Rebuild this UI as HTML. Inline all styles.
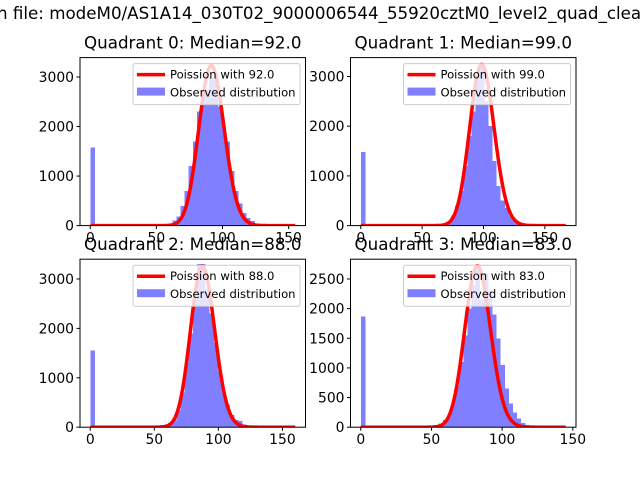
<!DOCTYPE html>
<html><head><meta charset="utf-8"><style>
body{margin:0;background:#fff;}
svg{display:block;font-family:"DejaVu Sans","Liberation Sans",sans-serif;}
</style></head><body>
<svg id="fig" width="640" height="480" viewBox="0 0 640 480">
<rect width="640" height="480" fill="#fff"/>
<text x="-3" y="19" font-size="16.7">n file: modeM0/AS1A14_030T02_9000006544_55920cztM0_level2_quad_clean</text>
</svg>
<script>
// Quadrant 0 (50 bins over 0..155)
const q0Counts = [1580,0,0,0,0,0,0,0,0,0,0,0,0,0,0,0,0,20,30,40,100,180,400,700,1200,1700,2300,2700,2750,3000,2950,2400,2000,1700,1100,700,450,250,150,90,40,0,0,0,0,0,0,0,0,0];
// Quadrant 1 (50 bins over 0..167)
const q1Counts = [1480,0,0,0,0,0,0,0,0,0,0,0,0,0,0,0,0,0,20,30,40,80,200,400,700,1200,1800,2300,3000,3200,2500,2000,1300,800,500,350,200,100,40,0,0,0,0,0,0,0,0,0,0,0];
// Quadrant 2 (50 bins over 0..160)
const q2Counts = [1550,0,0,0,0,0,0,0,0,0,0,0,0,0,0,0,0,40,50,80,150,350,700,1300,1900,2600,3300,3300,2800,2300,1700,1150,700,450,250,150,130,50,0,0,0,0,0,0,0,0,0,0,0,0];
// Quadrant 3 (50 bins over 0..145)
const q3Counts = [1870,0,0,0,0,0,0,0,0,0,0,0,0,0,0,0,30,30,40,60,120,200,400,700,1100,1550,2000,2400,2700,2150,2600,2300,1900,1500,1050,650,400,250,150,70,40,0,0,0,0,0,0,0,0,0];
const medians = [92.0, 99.0, 88.0, 83.0];
const dataMax = [155, 167, 160, 145];
const curvePeak = [3230, 3240, 3260, 2720];
const yMax = [3392, 3380, 3400, 2834];
const xTicks = [[0,50,100,150],[0,50,100,150],[0,50,100,150],[0,50,100,150]];
const yTicks = [[0,1000,2000,3000],[0,1000,2000,3000],[0,1000,2000,3000],[0,500,1000,1500,2000,2500]];
const allCounts = [q0Counts,q1Counts,q2Counts,q3Counts];

const NS="http://www.w3.org/2000/svg";
const fig=document.getElementById('fig');
function mk(tag,attrs,parent){const e=document.createElementNS(NS,tag);for(const k in attrs)e.setAttribute(k,attrs[k]);(parent||fig).appendChild(e);return e;}
function lgamma(n){ if(n<2)return 0; return n*Math.log(n)-n+0.5*Math.log(2*Math.PI*n)+1/(12*n);}
const boxes=[[80,57.6],[350.5,57.6],[80,259.2],[350.5,259.2]];
const W=225.5,H=168;
for(let q=0;q<4;q++){
  const [L,T]=boxes[q];
  const g=mk('g',{});
  
  
  const dm=dataMax[q], pad=dm*0.05;
  const sx=v=>L+(v+pad)/(dm+2*pad)*W;
  const sy=v=>T+H-v/yMax[q]*H;
  const counts=allCounts[q], n=counts.length, bw=dm/n;
  const clip=mk('clipPath',{id:'c'+q},g); mk('rect',{x:L,y:T,width:W,height:H},clip);
  const plot=mk('g',{'clip-path':'url(#c'+q+')'},g);
  const hist=mk('g',{opacity:0.5,'shape-rendering':'crispEdges'},plot);
  counts.forEach((c,i)=>{ if(c<=0)return;
    const r=mk('rect',{x:sx(i*bw),y:sy(c),width:sx((i+1)*bw)-sx(i*bw)+0.5,height:sy(0)-sy(c),fill:'#0000ff'},hist);
    
    
  });
  const lam=medians[q]; let pts=[],vals=[],mx=0;
  for(let k=0;k<=dm;k++){const v=Math.exp(k*Math.log(lam)-lam-lgamma(k));vals.push(v);if(v>mx)mx=v;}
  vals.forEach((v,k)=>pts.push(sx(k).toFixed(2)+','+sy(v/mx*curvePeak[q]).toFixed(2)));
  const pl=mk('polyline',{points:pts.join(' '),fill:'none',stroke:'#ff0000','stroke-width':3.5,'stroke-linejoin':'round'},plot);
  
  
  mk('rect',{x:L,y:T,width:W,height:H,fill:'none',stroke:'#000','stroke-width':1},g);
  xTicks[q].forEach(t=>{const x=sx(t);
    mk('line',{x1:x,x2:x,y1:T+H,y2:T+H+3.5,stroke:'#000'},g);
    const tx=mk('text',{x:x,y:T+H+17,'font-size':13.9,'text-anchor':'middle'},g);tx.textContent=t;
    
    });
  yTicks[q].forEach(t=>{const y=sy(t);
    mk('line',{x1:L,x2:L-3.5,y1:y,y2:y,stroke:'#000'},g);
    const tx=mk('text',{x:L-6,y:y+5,'font-size':13.9,'text-anchor':'end'},g);tx.textContent=t;
    
    });
  const ti=mk('text',{x:L+W/2,y:T-9,'font-size':16.7,'text-anchor':'middle'},g);
  ti.textContent='Quadrant '+q+': Median='+medians[q].toFixed(1);
  
  
  const lg=mk('g',{},g);
  
  
  const lx=L+53,ly=T+6;
  mk('rect',{x:lx,y:ly,width:167,height:41,rx:2,fill:'#fff','fill-opacity':0.8,stroke:'#ccc'},lg);
  mk('line',{x1:lx+4,x2:lx+32,y1:ly+11,y2:ly+11,stroke:'#ff0000','stroke-width':3.5},lg);
  mk('rect',{x:lx+4,y:ly+24,width:28,height:8,fill:'#0000ff','fill-opacity':0.5},lg);
  const t1=mk('text',{x:lx+37,y:ly+15,'font-size':11.6},lg);t1.textContent='Poission with '+medians[q].toFixed(1);
  const t2=mk('text',{x:lx+37,y:ly+33,'font-size':11.6},lg);t2.textContent='Observed distribution';
}
</script>
</body></html>
